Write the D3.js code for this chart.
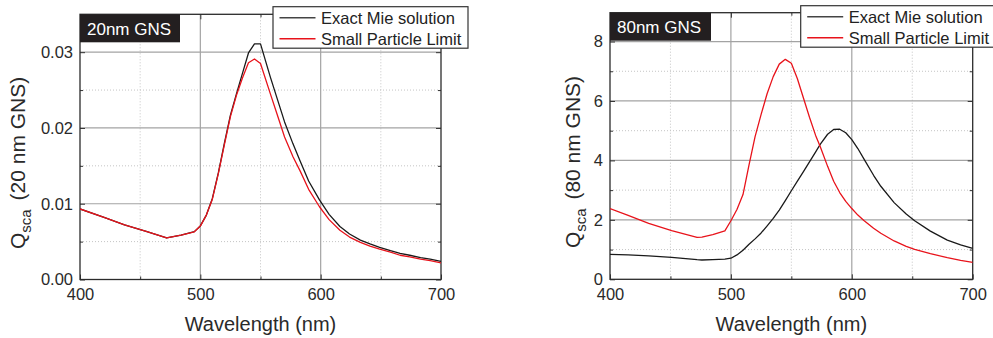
<!DOCTYPE html>
<html>
<head>
<meta charset="utf-8">
<script src="https://cdn.jsdelivr.net/npm/d3@7"></script>
<style>
  html, body { margin: 0; padding: 0; background: #fff; }
  svg { display: block; font-family: Arial, "Liberation Sans", Helvetica, sans-serif; }
</style>
</head>
<body>
<svg id="chart" width="993" height="338"></svg>
<script>
// Scattering efficiency of gold nanospheres (GNS) vs wavelength

// 20 nm particle
const wl20 = [400, 420, 437, 455, 472, 484, 495, 500, 505, 510, 515, 520, 525, 530, 535, 540, 545, 550, 558, 564, 570, 577, 583, 590, 599, 607, 616, 624, 633, 641, 649, 658, 666, 674, 683, 691, 700];
const mie20 = [0.00931, 0.00820, 0.00722, 0.00635, 0.00548, 0.00585, 0.00632, 0.00707, 0.0085, 0.0107, 0.0141, 0.0180, 0.0217, 0.0245, 0.0272, 0.0299, 0.0311, 0.0311, 0.0268, 0.0238, 0.0208, 0.0179, 0.0156, 0.0130, 0.0105, 0.0086, 0.0070, 0.0060, 0.0052, 0.0047, 0.00425, 0.0038, 0.00346, 0.0032, 0.0029, 0.0027, 0.00240];
const spl20 = [0.00931, 0.00820, 0.00722, 0.00635, 0.00548, 0.00585, 0.00630, 0.00705, 0.0085, 0.0106, 0.0140, 0.0178, 0.0215, 0.0243, 0.0266, 0.0286, 0.0291, 0.0285, 0.0246, 0.0217, 0.0188, 0.0162, 0.0143, 0.0119, 0.0096, 0.0079, 0.0065, 0.0056, 0.0049, 0.0044, 0.0040, 0.0036, 0.0032, 0.0030, 0.0027, 0.0025, 0.00220];

// 80 nm particle
const wl80 = [400, 415, 432, 451, 472, 476, 485, 495, 500, 505, 510, 515, 520, 525, 530, 535, 540, 545, 550, 555, 560, 565, 570, 574, 580, 585, 590, 595, 600, 605, 610, 618, 624, 635, 645, 652, 665, 679, 690, 700];
const mie80 = [0.84, 0.82, 0.79, 0.74, 0.66, 0.65, 0.66, 0.68, 0.71, 0.82, 0.98, 1.18, 1.36, 1.56, 1.80, 2.05, 2.33, 2.65, 2.98, 3.30, 3.62, 3.95, 4.28, 4.55, 4.88, 5.04, 5.05, 4.93, 4.70, 4.40, 4.05, 3.50, 3.13, 2.58, 2.20, 1.97, 1.62, 1.32, 1.16, 1.04];
const spl80 = [2.38, 2.15, 1.88, 1.64, 1.41, 1.42, 1.50, 1.63, 1.97, 2.35, 2.85, 3.85, 4.80, 5.55, 6.25, 6.82, 7.24, 7.40, 7.27, 6.75, 6.10, 5.45, 4.85, 4.45, 3.80, 3.30, 2.92, 2.62, 2.38, 2.16, 1.98, 1.72, 1.55, 1.29, 1.11, 1.01, 0.86, 0.73, 0.64, 0.57];

const xTicks = [400, 500, 600, 700];
const yTicks20 = [0.00, 0.01, 0.02, 0.03];
const yTicks80 = [0, 2, 4, 6, 8];
const seriesNames = ["Exact Mie solution", "Small Particle Limit"];
const seriesColors = ["#1a1a1a", "#e8131b"];

const svg = d3.select("#chart");

function panel(cfg) {
  const {x0, x1, y0, y1, wl, series, yMax, yTicks, yMinor, yFmt, tag, tagW, sizeLabel, titleOff, legendX, legendY, legendW} = cfg;
  const g = svg.append("g");
  const x = d3.scaleLinear().domain([400, 700]).range([x0, x1]);
  const y = d3.scaleLinear().domain([0, yMax]).range([y1, y0]);
  const xMinor = [450, 550, 650];

  // minor grid (dotted)
  g.selectAll(".gxm").data(xMinor).join("line")
    .attr("x1", d => x(d)).attr("x2", d => x(d)).attr("y1", y0).attr("y2", y1)
    .attr("stroke", "#c4c4c4").attr("stroke-width", 1).attr("stroke-dasharray", "1,2");
  g.selectAll(".gym").data(yMinor).join("line")
    .attr("y1", d => y(d)).attr("y2", d => y(d)).attr("x1", x0).attr("x2", x1)
    .attr("stroke", "#c4c4c4").attr("stroke-width", 1).attr("stroke-dasharray", "1,2");
  // major grid (solid)
  g.selectAll(".gx").data(xTicks.slice(1, -1)).join("line")
    .attr("x1", d => x(d)).attr("x2", d => x(d)).attr("y1", y0).attr("y2", y1)
    .attr("stroke", "#a3a3a3").attr("stroke-width", 1.2);
  g.selectAll(".gy").data(yTicks.filter(v => v > 0)).join("line")
    .attr("y1", d => y(d)).attr("y2", d => y(d)).attr("x1", x0).attr("x2", x1)
    .attr("stroke", "#a3a3a3").attr("stroke-width", 1.2);

  // axes with inward ticks on all four sides
  const axStyle = a => a.call(s => s.select(".domain").remove())
    .call(s => s.selectAll("line").attr("stroke", "#333"))
    .call(s => s.selectAll("text").attr("fill", "#2a2a2a").style("font-size", "16.5px").style("font-family", "Arial, 'Liberation Sans', sans-serif"));

  g.append("g").attr("transform", `translate(0,${y1})`)
    .call(d3.axisBottom(x).tickValues(xTicks).tickSize(-5).tickPadding(8.5).tickFormat(d3.format("d")))
    .call(axStyle);
  g.append("g").attr("transform", `translate(0,${y1})`)
    .call(d3.axisBottom(x).tickValues(xMinor).tickSize(-3).tickFormat(""))
    .call(axStyle);
  g.append("g").attr("transform", `translate(0,${y0})`)
    .call(d3.axisTop(x).tickValues(xTicks).tickSize(-5).tickFormat(""))
    .call(axStyle);
  g.append("g").attr("transform", `translate(0,${y0})`)
    .call(d3.axisTop(x).tickValues(xMinor).tickSize(-3).tickFormat(""))
    .call(axStyle);
  g.append("g").attr("transform", `translate(${x0},0)`)
    .call(d3.axisLeft(y).tickValues(yTicks).tickSize(-5).tickPadding(7).tickFormat(yFmt))
    .call(axStyle);
  g.append("g").attr("transform", `translate(${x0},0)`)
    .call(d3.axisLeft(y).tickValues(yMinor).tickSize(-3).tickFormat(""))
    .call(axStyle);
  g.append("g").attr("transform", `translate(${x1},0)`)
    .call(d3.axisRight(y).tickValues(yTicks).tickSize(-5).tickFormat(""))
    .call(axStyle);
  g.append("g").attr("transform", `translate(${x1},0)`)
    .call(d3.axisRight(y).tickValues(yMinor).tickSize(-3).tickFormat(""))
    .call(axStyle);

  // frame
  g.append("rect").attr("x", x0).attr("y", y0).attr("width", x1 - x0).attr("height", y1 - y0)
    .attr("fill", "none").attr("stroke", "#2b2b2b").attr("stroke-width", 1.3);

  // curves
  const clipId = "clip" + tag.replace(/\W/g, "");
  svg.append("clipPath").attr("id", clipId).append("rect")
    .attr("x", x0).attr("y", y0).attr("width", x1 - x0).attr("height", y1 - y0);
  const line = d3.line().x(d => x(d[0])).y(d => y(d[1]));
  series.forEach((vals, i) => {
    g.append("path").datum(wl.map((w, k) => [w, vals[k]]))
      .attr("clip-path", `url(#${clipId})`)
      .attr("d", line).attr("fill", "none")
      .attr("stroke", seriesColors[i]).attr("stroke-width", 1.3)
      .attr("stroke-linejoin", "round");
  });

  // tag box
  g.append("rect").attr("x", x0).attr("y", y0).attr("width", tagW).attr("height", 28)
    .attr("fill", "#231f20");
  g.append("text").attr("x", x0 + 7).attr("y", y0 + 20.5).text(tag)
    .attr("fill", "#fff").style("font-size", "17px");

  // legend
  g.append("rect").attr("x", legendX).attr("y", legendY).attr("width", legendW).attr("height", 41.5)
    .attr("fill", "#fff").attr("stroke", "#333").attr("stroke-width", 1.2);
  seriesNames.forEach((name, i) => {
    const ly = legendY + 11 + i * 21;
    g.append("line").attr("x1", legendX + 6.5).attr("x2", legendX + 42.5).attr("y1", ly).attr("y2", ly)
      .attr("stroke", i === 0 ? "#444" : seriesColors[1]).attr("stroke-width", 1.4);
    g.append("text").attr("x", legendX + 48).attr("y", ly + 6).text(name)
      .attr("fill", "#222").style("font-size", "16.5px");
  });

  // axis titles
  const cx = (x0 + x1) / 2;
  g.append("text").attr("x", cx).attr("y", 331).attr("text-anchor", "middle")
    .text("Wavelength (nm)").attr("fill", "#2a2a2a").style("font-size", "20px");
  const yt = g.append("text")
    .attr("transform", `translate(${x0 - titleOff},${(y0 + y1) / 2 + 16}) rotate(-90)`)
    .attr("text-anchor", "middle").attr("fill", "#2a2a2a").style("font-size", "21px");
  yt.append("tspan").text("Q");
  yt.append("tspan").text("sca").style("font-size", "15px").attr("dy", 6);
  yt.append("tspan").text(` (${sizeLabel} GNS)`).attr("dy", -6).attr("dx", 3);
}

panel({
  x0: 80, x1: 441, y0: 14.3, y1: 279.5, wl: wl20, series: [mie20, spl20],
  yMax: 0.0350, yTicks: yTicks20, yMinor: [0.005, 0.015, 0.025], yFmt: d3.format(".2f"),
  tag: "20nm GNS", tagW: 100, sizeLabel: "20 nm", titleOff: 55,
  legendX: 273, legendY: 6.7, legendW: 195
});
panel({
  x0: 610, x1: 972.7, y0: 12.7, y1: 279.3, wl: wl80, series: [mie80, spl80],
  yMax: 8.97, yTicks: yTicks80, yMinor: [1, 3, 5, 7], yFmt: d3.format("d"),
  tag: "80nm GNS", tagW: 101, sizeLabel: "80 nm", titleOff: 30,
  legendX: 800.7, legendY: 5.7, legendW: 200
});
</script>
</body>
</html>
